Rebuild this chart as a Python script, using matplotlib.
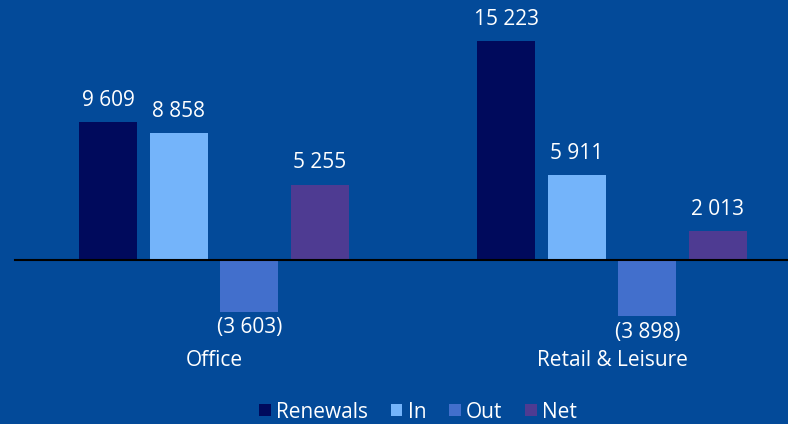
import numpy as np
import matplotlib.pyplot as plt

# data
categories = ["Office", "Retail & Leisure"]
series = ["Renewals", "In", "Out", "Net"]
renewals = [9609, 15223]
ins = [8858, 5911]
outs = [-3603, -3898]
net = [5255, 2013]
colors = ["#000a5c", "#74b4fa", "#426fcc", "#4e3b92"]
bg = "#034a99"

plt.rcParams['font.family'] = ['Open Sans', 'DejaVu Sans']
fs = 15


def fmt(v):
    s = f"{abs(v):,}".replace(",", " ")
    return f"({s})" if v < 0 else s


fig = plt.figure(figsize=(7.88, 4.24), dpi=100, facecolor=bg)
ax = fig.add_axes([0, 0, 1, 1])
ax.set_facecolor(bg)

x = np.arange(len(categories))
width = 0.146
step = 0.177
values = [renewals, ins, outs, net]
for i, (name, vals, c) in enumerate(zip(series, values, colors)):
    pos = x + (i - 1.5) * step
    bars = ax.bar(pos, vals, width=width, color=c, label=name)
    for b, v in zip(bars, vals):
        if v >= 0:
            ax.annotate(fmt(v), (b.get_x() + b.get_width() / 2, v),
                        xytext=(0, 8), textcoords="offset points",
                        ha="center", va="bottom", color="white", fontsize=fs)
        else:
            ax.annotate(fmt(v), (b.get_x() + b.get_width() / 2, v),
                        xytext=(0, -4), textcoords="offset points",
                        ha="center", va="top", color="white", fontsize=fs)

for xi, cat in zip(x, categories):
    ax.text(xi, -7030, cat, ha="center", va="center", color="white", fontsize=fs)

ax.axhline(0, xmin=15 / 788, xmax=1, color="black", lw=1.5)

ax.set_xlim(-214 / 398, (788 - 214) / 398)
ax.set_ylim(-164 / 0.01436, 260 / 0.01436)
ax.axis("off")

leg = ax.legend(loc="center", bbox_to_anchor=(418 / 788, 12 / 424), ncol=4,
                frameon=False, fontsize=fs, handlelength=0.55, handleheight=0.55,
                handletextpad=0.25, columnspacing=1.1, borderaxespad=0)
for t in leg.get_texts():
    t.set_color("white")

fig.savefig("out.png", dpi=100, facecolor=bg)
